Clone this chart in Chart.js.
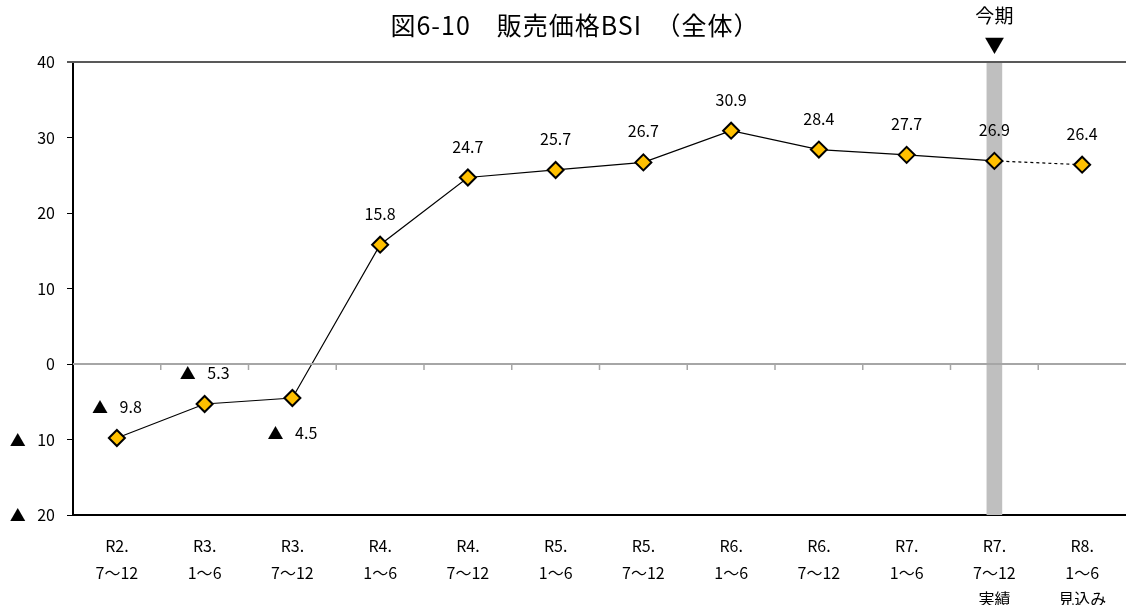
<!DOCTYPE html>
<html>
<head>
<meta charset="utf-8">
<script src="https://cdn.jsdelivr.net/npm/chart.js@4/dist/chart.umd.min.js"></script>
<style>
  body { margin: 0; background: #fff; overflow: hidden; }
  #wrap { width: 1126px; height: 605px; position: relative; }
</style>
</head>
<body>
<div id="wrap"><canvas id="mycanvas"></canvas></div>
<script>
var periods = [
  ["R2.", "7～12"], ["R3.", "1～6"], ["R3.", "7～12"], ["R4.", "1～6"],
  ["R4.", "7～12"], ["R5.", "1～6"], ["R5.", "7～12"], ["R6.", "1～6"],
  ["R6.", "7～12"], ["R7.", "1～6"], ["R7.", "7～12", "実績"], ["R8.", "1～6", "見込み"]
];
var bsi = [-9.8, -5.3, -4.5, 15.8, 24.7, 25.7, 26.7, 30.9, 28.4, 27.7, 26.9, 26.4];
var yTicks = [-20, -10, 0, 10, 20, 30, 40];
var currentIndex = 10;   // 今期
var titleText = "図6-10　販売価格BSI　（全体）";

var FONT = '"Noto Sans CJK JP", sans-serif';

// negatives are written with ▲ instead of a minus sign
function fmt(v) {
  return v < 0 ? "▲\u2002 " + (-v) : String(v);
}

// band marking the current period, full height of the axis
var band = periods.map(function(p, i) {
  return i === currentIndex ? [yTicks[0], yTicks[yTicks.length - 1]] : null;
});

var extras = {
  id: "extras",
  afterDatasetsDraw: function(chart) {
    var ctx = chart.ctx, area = chart.chartArea;
    var x = chart.scales.x, y = chart.scales.y;
    var y0 = y.getPixelForValue(0);

    ctx.save();
    // zero line with small ticks between categories
    ctx.strokeStyle = "#a6a6a6";
    ctx.lineWidth = 2;
    ctx.beginPath();
    ctx.moveTo(area.left, y0);
    ctx.lineTo(area.right, y0);
    ctx.stroke();
    ctx.lineWidth = 1.5;
    for (var i = 1; i < periods.length; i++) {
      var bx = (x.getPixelForValue(i - 1) + x.getPixelForValue(i)) / 2;
      ctx.beginPath();
      ctx.moveTo(bx, y0);
      ctx.lineTo(bx, y0 + 6);
      ctx.stroke();
    }

    // top frame line
    ctx.strokeStyle = "#595959";
    ctx.lineWidth = 2;
    ctx.beginPath();
    ctx.moveTo(area.left - 6, area.top);
    ctx.lineTo(area.right, area.top);
    ctx.stroke();

    // value labels, the third one sits under its point
    var meta = chart.getDatasetMeta(1);
    ctx.fillStyle = "#000";
    ctx.font = "16px " + FONT;
    ctx.textAlign = "center";
    ctx.textBaseline = "middle";
    meta.data.forEach(function(pt, i) {
      var ly = i === 2 ? pt.y + 35 : pt.y - 31;
      ctx.fillText(fmt(bsi[i]), pt.x, ly);
    });

    // 今期 marker
    var cx = x.getPixelForValue(currentIndex);
    ctx.font = "19px " + FONT;
    ctx.fillText("今期", cx, 16);
    ctx.font = "20px " + FONT;
    ctx.fillText("▼", cx, 45);

    // title
    ctx.font = "25px " + FONT;
    ctx.letterSpacing = "1px";
    ctx.fillText(titleText, 575, 25);
    ctx.restore();
  }
};

var ctx = document.getElementById("mycanvas");

var chart = new Chart(ctx, {
  type: "line",
  data: {
    labels: periods,
    datasets: [
      {
        type: "bar",
        data: band,
        backgroundColor: "#bfbfbf",
        barThickness: 15,
        order: 2
      },
      {
        type: "line",
        data: bsi,
        borderColor: "#000",
        borderWidth: 1.2,
        tension: 0,
        pointStyle: "rectRot",
        pointRadius: 8,
        pointBackgroundColor: "#ffc000",
        pointBorderColor: "#000",
        pointBorderWidth: 2,
        segment: {
          borderDash: function(c) { return c.p1DataIndex === bsi.length - 1 ? [3, 3] : undefined; }
        },
        order: 1
      }
    ]
  },
  options: {
    responsive: true,
    maintainAspectRatio: false,
    animation: false,
    layout: { autoPadding: false, padding: { top: 62, left: 0, right: 0, bottom: 0 } },
    plugins: {
      legend: { display: false },
      tooltip: { enabled: false },
      title: { display: false }
    },
    scales: {
      x: {
        type: "category",
        offset: true,
        grid: { display: false },
        border: { color: "#000", width: 2 },
        ticks: {
          color: "#000",
          font: { family: FONT, size: 16, lineHeight: 1.65 },
          padding: 10,
          maxRotation: 0,
          autoSkip: false
        },
        afterFit: function(s) { s.height = 90; s.paddingLeft = 0; s.paddingRight = 0; }
      },
      y: {
        min: yTicks[0],
        max: yTicks[yTicks.length - 1],
        afterBuildTicks: function(s) {
          s.ticks = yTicks.map(function(v) { return { value: v }; });
        },
        grid: { drawOnChartArea: false, drawTicks: true, tickLength: 6, color: "#000" },
        border: { color: "#000", width: 2 },
        ticks: {
          color: "#000",
          font: { family: FONT, size: 16 },
          padding: 12,
          callback: function(v) { return fmt(v); }
        },
        afterFit: function(s) { s.width = 73; s.paddingTop = 0; s.paddingBottom = 0; }
      }
    }
  },
  plugins: [extras]
});
</script>
</body>
</html>
